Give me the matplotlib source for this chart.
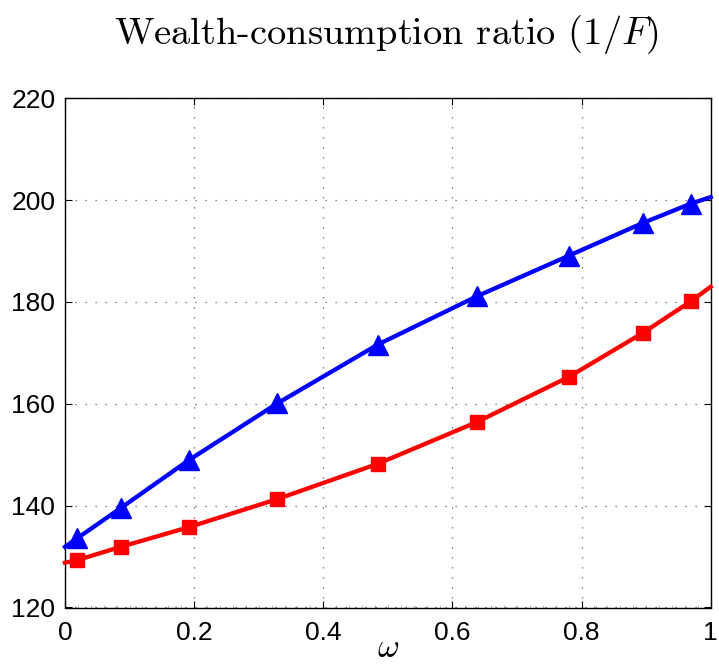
import numpy as np
import matplotlib
matplotlib.use("Agg")
import matplotlib.pyplot as plt
from matplotlib.ticker import MultipleLocator

# values (first/last points are the line ends at omega=0 and 1)
omega = [0.0, 0.019, 0.086, 0.1925, 0.329, 0.484, 0.6376, 0.7805, 0.8946, 0.969, 1.0]
wc_blue = [131.9, 133.6, 139.5, 149.0, 160.1, 171.6, 181.1, 189.1, 195.5, 199.3, 200.6]
wc_red = [128.8, 129.3, 131.9, 135.8, 141.3, 148.2, 156.4, 165.3, 173.9, 180.1, 183.0]

xticks = [0, 0.2, 0.4, 0.6, 0.8, 1]
xticklabels = ['0', '0.2', '0.4', '0.6', '0.8', '1']
yticks = [120, 140, 160, 180, 200, 220]

plt.rcParams['mathtext.fontset'] = 'cm'
plt.rcParams['font.family'] = ['Liberation Sans', 'DejaVu Sans']

fig = plt.figure(figsize=(7.19, 6.67), dpi=100)
ax = fig.add_axes([65/719, 1 - 607.5/667, (710.7-65)/719, (607.5-98.3)/667])

marks = slice(1, -1)
ax.plot(omega, wc_blue, color='#0000ff', lw=3.1, marker='^', markersize=15,
        markevery=marks, clip_on=False, zorder=3)
ax.plot(omega, wc_red, color='#ff0000', lw=3.1, marker='s', markersize=10.5,
        markevery=marks, clip_on=False, zorder=3)

ax.set_xlim(0, 1)
ax.set_ylim(120, 220)
ax.set_xticks(xticks)
ax.set_xticklabels(xticklabels)
ax.set_yticks(yticks)
ax.xaxis.set_minor_locator(MultipleLocator(0.02))
ax.tick_params(which='major', direction='in', length=5, width=0.8,
               top=True, right=True, labelsize=19)
ax.tick_params(axis='x', which='major', pad=10)
ax.tick_params(axis='y', which='major', pad=7)
ax.tick_params(which='minor', direction='in', length=2, width=0.4,
               top=False, bottom=True, colors='#888888')
ax.grid(True, which='major', linestyle=(0, (1, 7)), color='#555555', lw=0.9)
for s in ax.spines.values():
    s.set_linewidth(1.0)

ax.set_xlabel(r'$\omega$', fontsize=24, labelpad=-9)
fig.text(387/719, 1 - 44/667, 'Wealth-consumption ratio $(1/F)$', fontsize=27.7,
         family='cmr10', ha='center', va='baseline')

fig.savefig('out.png', dpi=100)
